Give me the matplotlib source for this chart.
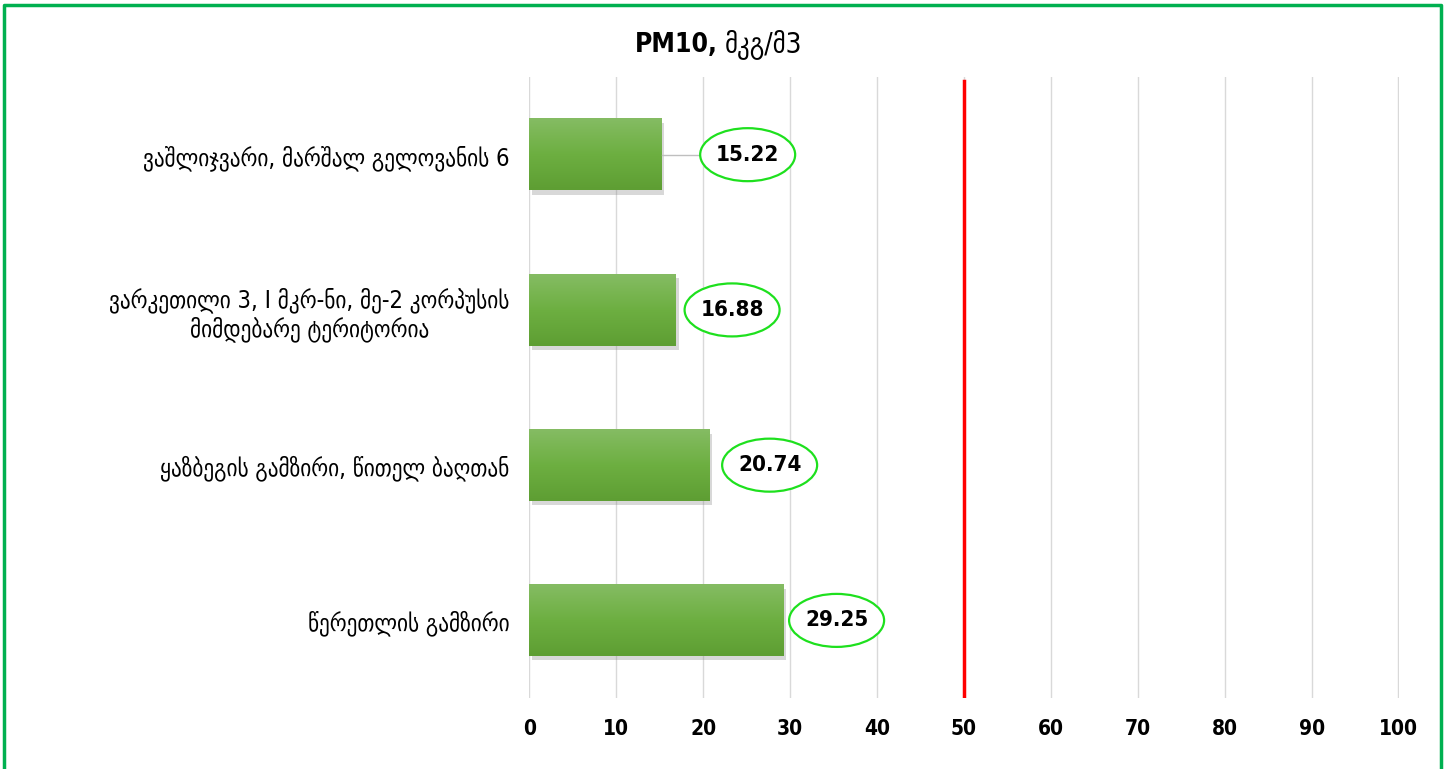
import numpy as np
import matplotlib
matplotlib.use("Agg")
import matplotlib.pyplot as plt
import matplotlib.patheffects as pe
from matplotlib.colors import LinearSegmentedColormap
from matplotlib.font_manager import FontProperties
from matplotlib.lines import Line2D
from matplotlib.patches import Ellipse
from matplotlib.transforms import IdentityTransform

# ###########################################
# Data
# ###########################################
stations = [
    "ვაშლიჯვარი, მარშალ გელოვანის 6",
    "ვარკეთილი 3, I მკრ-ნი, მე-2 კორპუსის\nმიმდებარე ტერიტორია",
    "ყაზბეგის გამზირი, წითელ ბაღთან",
    "წერეთლის გამზირი",
]
pm10 = [15.22, 16.88, 20.74, 29.25]
norm_value = 50
x_ticks = [0, 10, 20, 30, 40, 50, 60, 70, 80, 90, 100]
title_latin = "PM10,"
title_geo = "მკგ/მ3"

# ###########################################
# Style
# ###########################################
label_offsets = [86, 56, 60, 53]  # px from bar end to ellipse centre
ell_w, ell_h = 95, 53  # ellipse size, px
bar_light = "#85BC63"
bar_dark = "#5E9E33"

geo_font = FontProperties(family="DejaVu Sans", stretch="condensed", size=17)
tick_font = FontProperties(family="DejaVu Sans", stretch="condensed", weight="bold", size=15)
num_font = FontProperties(family="DejaVu Sans", stretch="condensed", weight="bold", size=16)

fig = plt.figure(figsize=(14.48, 7.69), dpi=100)
ax = fig.add_axes([0.3653, 0.0923, 0.6008, 0.8075])

y = np.arange(len(stations))
bar_h = 0.46
bars = ax.barh(y, pm10, height=bar_h, color=bar_dark, zorder=2,
               path_effects=[pe.SimplePatchShadow(offset=(2, -3), shadow_rgbFace="gray", alpha=0.3),
                             pe.Normal()])

# vertical gradient on each bar
cmap = LinearSegmentedColormap.from_list("bar", [bar_light, "#6DAF41", bar_dark])
grad = np.linspace(0, 1, 100).reshape(-1, 1)
for b in bars:
    x0, y0 = b.get_x(), b.get_y()
    ax.imshow(grad, extent=(x0, x0 + b.get_width(), y0 + b.get_height(), y0),
              cmap=cmap, aspect="auto", zorder=3, interpolation="bilinear")

ax.set_xlim(-0.05, 100.05)
ax.set_ylim(len(stations) - 0.5, -0.5)

# axes styling
ax.set_xticks(x_ticks)
ax.set_yticks(y)
ax.set_yticklabels(stations, fontproperties=geo_font, multialignment="center")
for lbl in ax.get_xticklabels():
    lbl.set_fontproperties(tick_font)
ax.tick_params(axis="x", length=0, pad=15)
ax.tick_params(axis="y", length=0, pad=14)
for s in ax.spines.values():
    s.set_visible(False)
ax.grid(axis="x", color="#D9D9D9", lw=1, zorder=0)
ax.set_axisbelow(True)

# limit line
ax.axvline(norm_value, ymax=0.994, color="#FF0000", lw=2.5, zorder=4)

# data labels inside green ellipses
for i, (v, off) in enumerate(zip(pm10, label_offsets)):
    bx, by = ax.transData.transform((v, i))
    cx = bx + off
    if i == 0:
        # leader line from bar end to the moved label
        fig.add_artist(Line2D([bx, cx - ell_w / 2], [by, by], color="#BFBFBF", lw=1,
                              transform=IdentityTransform(), zorder=4))
    fig.add_artist(Ellipse((cx, by), ell_w, ell_h, fc="white", ec="#1EE01E", lw=1.6,
                           transform=IdentityTransform(), zorder=5))
    fig.text(cx, by, f"{v:.2f}", ha="center", va="center", fontproperties=num_font,
             transform=IdentityTransform(), zorder=6)

# title
fig.text(718 / 1448, 1 - 52 / 769, title_latin, ha="right", va="baseline",
         family="DejaVu Sans", stretch="condensed", weight="bold", size=19)
fig.text(725 / 1448, 1 - 52 / 769, title_geo, ha="left", va="baseline",
         family="DejaVu Sans", stretch="condensed", size=20)

# green frame (open at the bottom)
fig.add_artist(Line2D([4 / 1448, 4 / 1448, 1441 / 1448, 1441 / 1448],
                      [0, 1 - 5 / 769, 1 - 5 / 769, 0],
                      color="#00B050", lw=2.5, transform=fig.transFigure))

fig.savefig("out.png", dpi=100)
